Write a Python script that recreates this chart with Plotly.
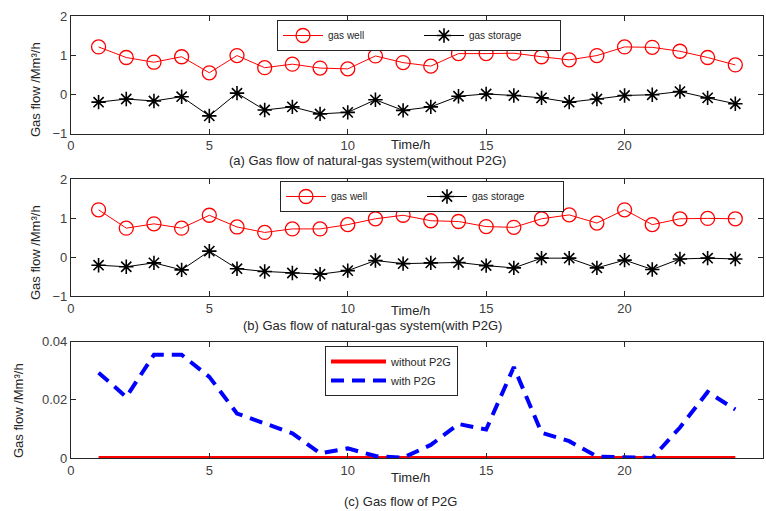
import plotly.graph_objects as go

hours = list(range(1, 25))

well_a = [1.21, 0.94, 0.82, 0.96, 0.55, 0.99, 0.68, 0.77, 0.67, 0.65, 0.98, 0.81,
          0.72, 1.04, 1.04, 1.05, 0.96, 0.88, 0.99, 1.21, 1.20, 1.10, 0.94, 0.75]
storage_a = [-0.20, -0.12, -0.17, -0.06, -0.55, 0.03, -0.40, -0.32, -0.50, -0.46, -0.14, -0.41,
             -0.32, -0.05, 0.01, -0.03, -0.09, -0.20, -0.12, -0.03, -0.01, 0.07, -0.09, -0.24]

well_b = [1.21, 0.74, 0.85, 0.74, 1.07, 0.77, 0.63, 0.72, 0.72, 0.83, 0.98, 1.07,
          0.93, 0.91, 0.78, 0.76, 0.98, 1.08, 0.87, 1.21, 0.83, 0.98, 0.99, 0.98]
storage_b = [-0.21, -0.25, -0.15, -0.33, 0.15, -0.30, -0.37, -0.41, -0.44, -0.35, -0.09, -0.17,
             -0.15, -0.14, -0.22, -0.28, -0.03, -0.03, -0.28, -0.08, -0.32, -0.05, -0.03, -0.05]

p2g_without = [0.0] * 24
p2g_with = [0.0293, 0.0210, 0.0355, 0.0355, 0.0279, 0.0153, 0.0119, 0.0085, 0.0016, 0.0033, 0.0007, 0.0001,
            0.0045, 0.0117, 0.0098, 0.0313, 0.0087, 0.0058, 0.0005, 0.0001, 0.0000, 0.0105, 0.0227, 0.0167]

x_ticks = [0, 5, 10, 15, 20, 25]
y_ticks_ab = [-1, 0, 1, 2]
y_ticks_c = [0, 0.02, 0.04]

W, H = 766, 511
FONT = "Liberation Sans, Arial, sans-serif"

def px(v):
    return v / W

def py(v):
    return (H - v) / H

fig = go.Figure()

# Panel (a)
fig.add_trace(go.Scatter(x=hours, y=well_a, mode="lines+markers", name="gas well",
                         line=dict(color="red", width=1),
                         marker=dict(symbol="circle-open", size=14, color="red", line=dict(width=1.3)),
                         xaxis="x", yaxis="y", legend="legend"))
fig.add_trace(go.Scatter(x=hours, y=storage_a, mode="lines+markers", name="gas storage",
                         line=dict(color="black", width=1),
                         marker=dict(symbol="asterisk-open", size=12, color="black", line=dict(width=1.6)),
                         xaxis="x", yaxis="y", legend="legend"))
# Panel (b)
fig.add_trace(go.Scatter(x=hours, y=well_b, mode="lines+markers", name="gas well",
                         line=dict(color="red", width=1),
                         marker=dict(symbol="circle-open", size=14, color="red", line=dict(width=1.3)),
                         xaxis="x2", yaxis="y2", legend="legend2"))
fig.add_trace(go.Scatter(x=hours, y=storage_b, mode="lines+markers", name="gas storage",
                         line=dict(color="black", width=1),
                         marker=dict(symbol="asterisk-open", size=12, color="black", line=dict(width=1.6)),
                         xaxis="x2", yaxis="y2", legend="legend2"))
# Panel (c)
fig.add_trace(go.Scatter(x=hours, y=p2g_without, mode="lines", name="without P2G",
                         line=dict(color="red", width=4),
                         xaxis="x3", yaxis="y3", legend="legend3"))
fig.add_trace(go.Scatter(x=hours, y=p2g_with, mode="lines", name="with P2G",
                         line=dict(color="blue", width=4, dash="13px,8px"),
                         xaxis="x3", yaxis="y3", legend="legend3"))

xdom = [px(70.9), px(763)]
axis_common = dict(showline=True, linecolor="#262626", linewidth=1, mirror="ticks",
                   ticks="inside", ticklen=5, tickcolor="#262626", showgrid=False, zeroline=False,
                   automargin=False,
                   tickfont=dict(family=FONT, size=13, color="#404040"))

fig.update_layout(
    width=W, height=H,
    margin=dict(l=0, r=0, t=0, b=0, autoexpand=False),
    paper_bgcolor="white", plot_bgcolor="white",
    font=dict(family=FONT, color="#262626"),
    xaxis=dict(domain=xdom, range=[0, 25], tickvals=x_ticks, anchor="y", **axis_common),
    yaxis=dict(domain=[py(133.5), py(16)], range=[-1, 2], tickvals=y_ticks_ab, anchor="x", **axis_common),
    xaxis2=dict(domain=xdom, range=[0, 25], tickvals=x_ticks, anchor="y2", **axis_common),
    yaxis2=dict(domain=[py(296), py(179)], range=[-1, 2], tickvals=y_ticks_ab, anchor="x2", **axis_common),
    xaxis3=dict(domain=xdom, range=[0, 25], tickvals=x_ticks, anchor="y3", **axis_common),
    yaxis3=dict(domain=[py(458), py(341.7)], range=[0, 0.04], tickvals=y_ticks_c,
                ticktext=["0", "0.02", "0.04"], anchor="x3", **axis_common),
    legend=dict(x=px(277), y=py(20), xanchor="left", yanchor="top", orientation="h",
                bordercolor="#262626", borderwidth=1, bgcolor="white",
                entrywidth=86, entrywidthmode="pixels", itemwidth=40,
                font=dict(family=FONT, size=10, color="#262626")),
    legend2=dict(x=px(280), y=py(181), xanchor="left", yanchor="top", orientation="h",
                 bordercolor="#262626", borderwidth=1, bgcolor="white",
                 entrywidth=86, entrywidthmode="pixels", itemwidth=40,
                 font=dict(family=FONT, size=10, color="#262626")),
    legend3=dict(x=px(325), y=py(346), xanchor="left", yanchor="top", orientation="v",
                 bordercolor="#262626", borderwidth=1, bgcolor="white", itemwidth=55,
                 font=dict(family=FONT, size=11, color="#262626")),
)

ann = []
def text(x, y, s, size=12, angle=0, color="#262626"):
    ann.append(dict(x=px(x), y=py(y), xref="paper", yref="paper", text=s, showarrow=False,
                    textangle=angle, font=dict(family=FONT, size=size, color=color),
                    xanchor="center", yanchor="middle"))

ytitle = "Gas flow /Mm³/h"
text(35, 90, ytitle, size=13, angle=-90)
text(35, 253, ytitle, size=13, angle=-90)
text(18, 411, ytitle, size=13, angle=-90)
text(411, 144, "Time/h", size=13)
text(411, 310, "Time/h", size=13)
text(411, 477, "Time/h", size=13)
text(367, 160, "(a) Gas flow of natural-gas system(without P2G)", size=13)
text(372, 325, "(b) Gas flow of natural-gas system(with P2G)", size=13)
text(400, 501, "(c) Gas flow of P2G", size=13)
fig.update_layout(annotations=ann)

fig.write_html("out.html", config={"displayModeBar": False},
               post_script="document.body.style.margin='0';document.body.style.overflow='hidden';")
